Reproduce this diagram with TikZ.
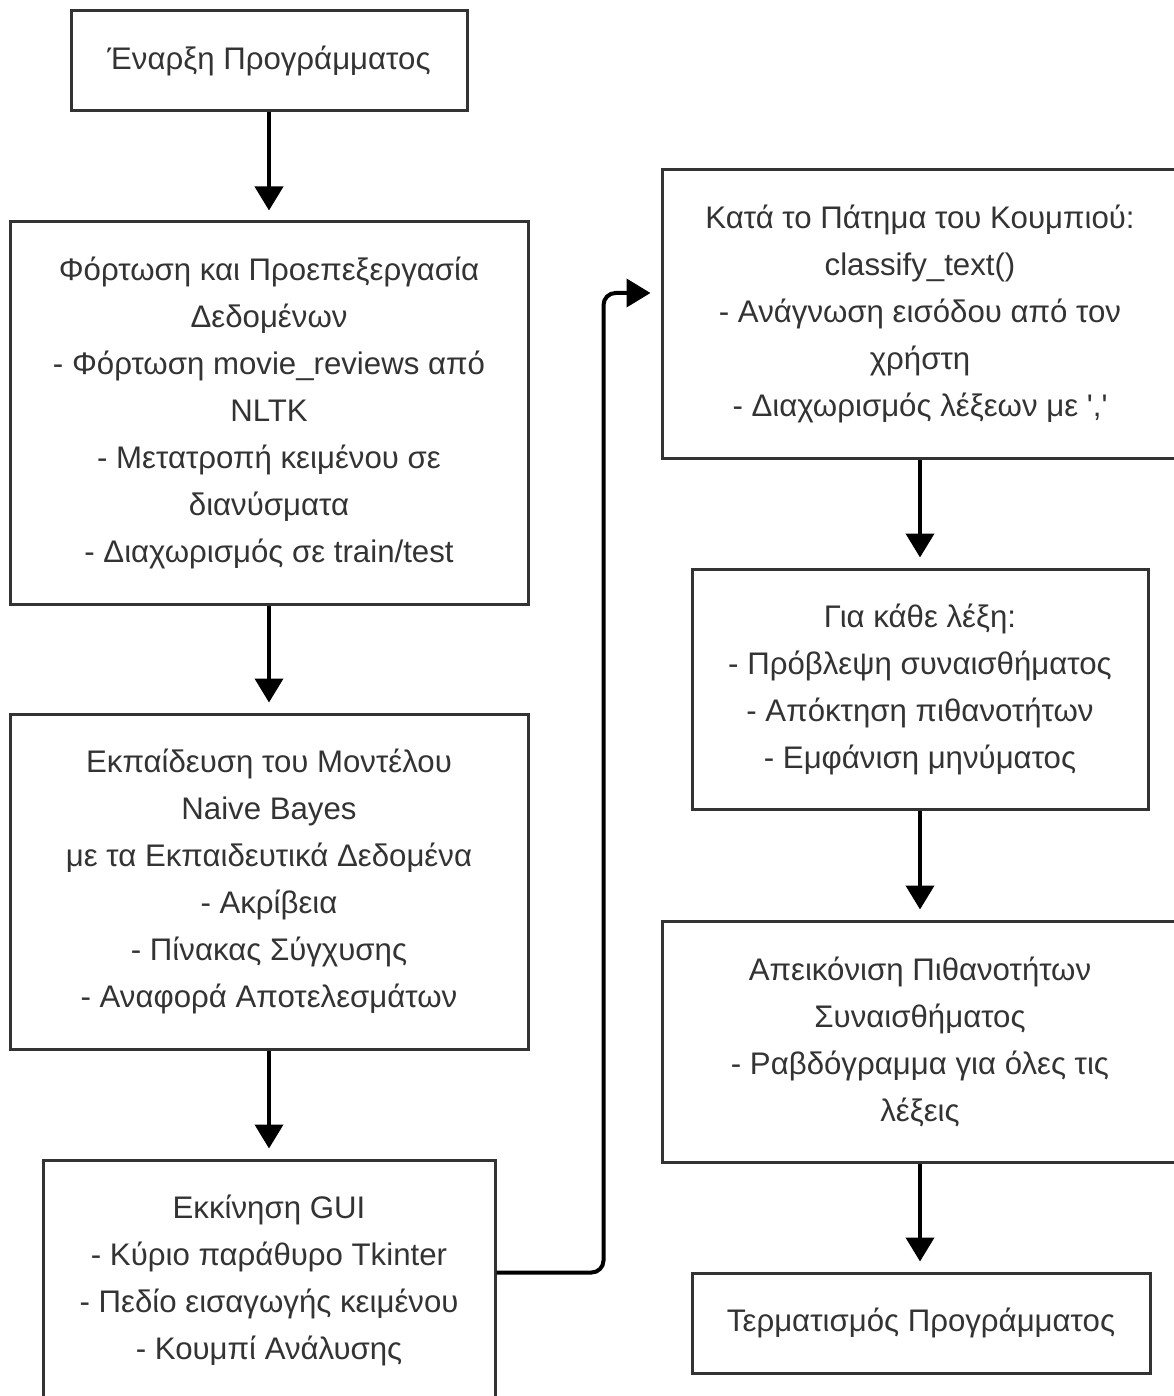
\documentclass[tikz,border=0pt]{standalone}
\usepackage{fontspec}
\newfontfamily\boxfont{Liberation Sans}
\usetikzlibrary{arrows.meta,shadows}
\definecolor{ink}{HTML}{333333}
\begin{document}
\begin{tikzpicture}[x=1pt,y=-1pt,
  box/.style={draw=ink, line width=3pt, fill=white, align=center, text=ink,
    font=\boxfont\fontsize{31.2}{47}\selectfont, inner sep=0pt,
    drop shadow={shadow xshift=1.5pt, shadow yshift=-1.5pt, opacity=0.18, fill=black}},
  arr/.style={line width=4pt, -{Triangle[length=24pt,width=28pt]}, shorten >=10pt}]
\useasboundingbox (0,0) rectangle (1173,1396);
\node[box, minimum width=396pt, minimum height=100pt] (b1) at (269,61) {Έναρξη Προγράμματος};
\node[box, minimum width=518pt, minimum height=382pt] (b2) at (269,413)
  {Φόρτωση και Προεπεξεργασία\\Δεδομένων\\- Φόρτωση movie\_reviews από\\NLTK\\- Μετατροπή κειμένου σε\\διανύσματα\\- Διαχωρισμός σε train/test};
\node[box, minimum width=518pt, minimum height=335pt] (b3) at (269,881.5)
  {Εκπαίδευση του Μοντέλου\\Naive Bayes\\με τα Εκπαιδευτικά Δεδομένα\\- Ακρίβεια\\- Πίνακας Σύγχυσης\\- Αναφορά Αποτελεσμάτων};
\node[box, minimum width=452pt, minimum height=241pt] (b4) at (269,1280.5)
  {Εκκίνηση GUI\\- Κύριο παράθυρο Tkinter\\- Πεδίο εισαγωγής κειμένου\\- Κουμπί Ανάλυσης};
\node[box, minimum width=516pt, minimum height=288pt] (b5) at (920,314)
  {Κατά το Πάτημα του Κουμπιού:\\classify\_text()\\- Ανάγνωση εισόδου από τον\\χρήστη\\- Διαχωρισμός λέξεων με ','};
\node[box, minimum width=456pt, minimum height=240pt] (b6) at (920,689)
  {Για κάθε λέξη:\\- Πρόβλεψη συναισθήματος\\- Απόκτηση πιθανοτήτων\\- Εμφάνιση μηνύματος};
\node[box, minimum width=516pt, minimum height=241pt] (b7) at (920,1041.5)
  {Απεικόνιση Πιθανοτήτων\\Συναισθήματος\\- Ραβδόγραμμα για όλες τις\\λέξεις};
\node[box, minimum width=458pt, minimum height=100pt] (b8) at (921,1323) {Τερματισμός Προγράμματος};
\draw[arr] (b1) -- (b2);
\draw[arr] (b2) -- (b3);
\draw[arr] (b3) -- (b4);
\draw[arr] (b5) -- (b6);
\draw[arr] (b6) -- (b7);
\draw[arr] (b7.south) -- (b7.south |- b8.north);
\draw[arr, rounded corners=12pt] ([yshift=8pt]b4.east) -- ++(107,0) |- ([yshift=21pt]b5.west);
\end{tikzpicture}
\end{document}
